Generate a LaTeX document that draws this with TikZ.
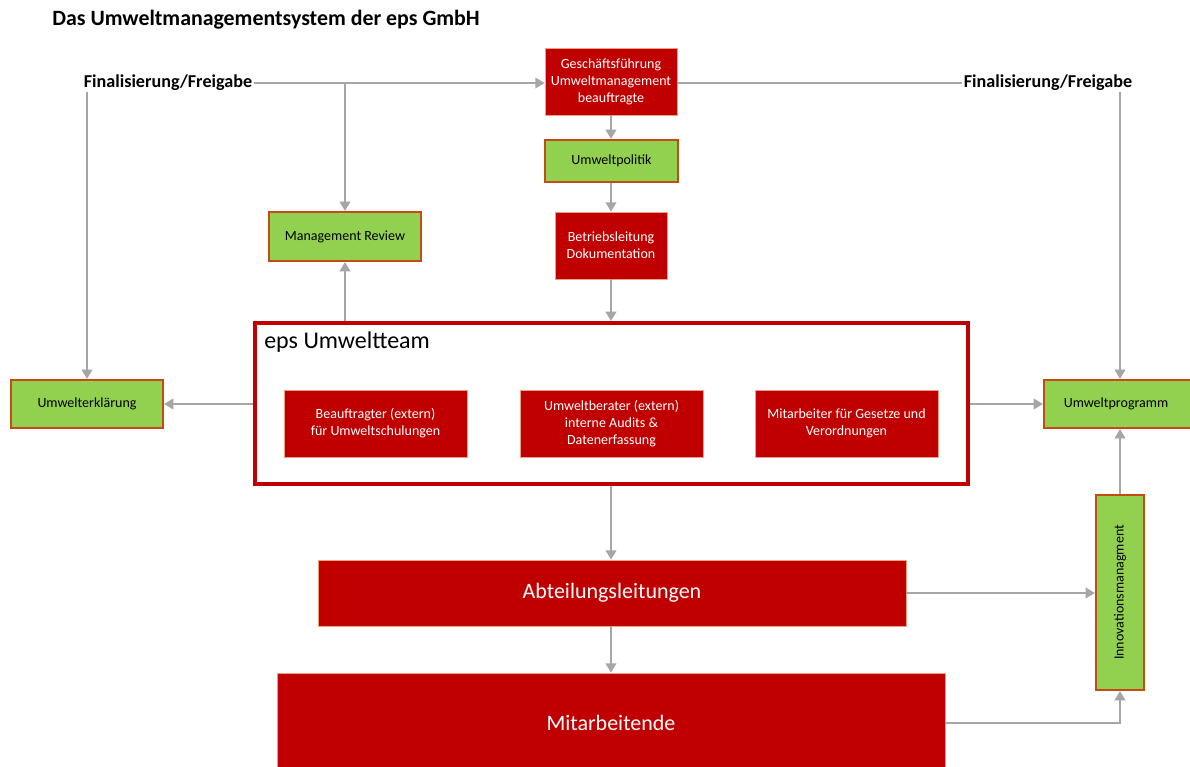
\documentclass[tikz,border=0pt]{standalone}
\usepackage{fontspec}
\setmainfont{Carlito}
\usetikzlibrary{arrows.meta}

\definecolor{boxred}{RGB}{192,0,0}
\definecolor{boxgreen}{RGB}{146,208,80}
\definecolor{greenrim}{RGB}{197,74,20}
\definecolor{redrim}{RGB}{240,160,130}
\definecolor{linegray}{RGB}{166,166,166}

\newlength\px
\setlength\px{0.75pt}

\tikzset{
  redbox/.style={draw=redrim,line width=0.6pt,fill=boxred,text=white,align=center,
    font=\fontsize{10.5pt}{12.8pt}\selectfont,inner sep=0pt},
  greenbox/.style={draw=greenrim,line width=1.6pt,fill=boxgreen,text=black,align=center,
    font=\fontsize{10.5pt}{12.8pt}\selectfont,inner sep=0pt},
  bigred/.style={redbox,font=\fontsize{16.5pt}{20pt}\selectfont},
  finaltext/.style={font=\bfseries\fontsize{13.6pt}{16pt}\selectfont,inner sep=1pt},
  arr/.style={draw=linegray,line width=1.5pt,-{Triangle[length=7pt,width=8pt]}},
  plain/.style={draw=linegray,line width=1.5pt}
}

\begin{document}
\begin{tikzpicture}[x=\px,y=-\px]

	\useasboundingbox (0,0) rectangle (1190,767);
	\fill[white] (0,0) rectangle (1190,767);

	\node[anchor=west,inner sep=0pt,font=\bfseries\fontsize{16.4pt}{19pt}\selectfont] (title) at (52,20) {Das Umweltmanagementsystem der eps GmbH};

	%top row
	\node[finaltext] (finL) at (168,83) {Finalisierung/Freigabe};
	\node[finaltext] (finR) at (1048,83) {Finalisierung/Freigabe};
	\node[redbox,minimum width=132\px,minimum height=67\px] (gf) at (611,81.5) {\raisebox{-2\px}{\parbox{130\px}{\centering Geschäftsführung\\Umweltmanagement\\beauftragte}}};

	%middle column
	\node[greenbox,minimum width=133\px,minimum height=42\px] (politik) at (611.5,161) {Umweltpolitik};
	\node[redbox,minimum width=112\px,minimum height=67\px] (betrieb) at (611,245.5) {Betriebsleitung\\Dokumentation};
	\node[greenbox,minimum width=152\px,minimum height=49\px] (review) at (345,236.5) {Management Review};

	%umweltteam
	\node[draw=boxred,line width=3pt,fill=white,minimum width=713\px,minimum height=161\px,inner sep=0pt] (team) at (611.5,403.5) {};
	\node[anchor=north west,inner sep=0pt,font=\fontsize{18pt}{21pt}\selectfont] (teamlabel) at (264,332) {eps Umweltteam};
	\node[redbox,minimum width=183\px,minimum height=67\px] (beauf) at (375.5,423.5) {Beauftragter (extern)\\für Umweltschulungen};
	\node[redbox,minimum width=183\px,minimum height=67\px] (berater) at (611.5,423.5) {Umweltberater (extern)\\interne Audits \&\\Datenerfassung};
	\node[redbox,minimum width=183\px,minimum height=67\px] (gesetze) at (846.5,423.5) {Mitarbeiter für Gesetze und\\Verordnungen};

	%sides
	\node[greenbox,minimum width=152\px,minimum height=48\px] (erkl) at (87,404) {Umwelterklärung};
	\node[greenbox,minimum width=152\px,minimum height=48\px] (programm) at (1120,404) {\hspace*{-8\px}Umweltprogramm};
	\node[greenbox,minimum width=48\px,minimum height=195\px] (innov) at (1120,592.5) {};
	\node[rotate=90,font=\fontsize{10.5pt}{12.8pt}\selectfont] (innovtext) at (innov.center) {Innovationsmanagment};

	%bottom
	\node[bigred,minimum width=588\px,minimum height=66\px] (abt) at (612,593) {\raisebox{-2\px}{Abteilungsleitungen}};
	\node[bigred,minimum width=668\px,minimum height=100\px] (mitarb) at (611,723) {Mitarbeitende};

	%connections top
	\draw[arr] (finL.east) -- (gf.west |- finL.east);
	\draw[arr] (erkl.north |- finL.south) -- (erkl.north);
	\draw[arr] (review.north |- finL.east) -- (review.north);
	\draw[plain] (gf.east |- finR.west) -- (finR.west);
	\draw[arr] (programm.north |- finR.south) -- (programm.north);

	%connections middle
	\draw[arr] (gf.south) -- (politik.north -| gf.south);
	\draw[arr] (politik.south -| gf.south) -- (betrieb.north -| gf.south);
	\draw[arr] (betrieb.south) -- (team.north -| betrieb.south);
	\draw[arr] (review.south |- team.north) -- (review.south);
	\draw[arr] (team.west |- erkl.east) -- (erkl.east);
	\draw[arr] (team.east |- programm.west) -- (programm.west);

	%connections bottom
	\draw[arr] (team.south -| gf.south) -- (abt.north -| gf.south);
	\draw[arr] (abt.south -| gf.south) -- (mitarb.north -| gf.south);
	\draw[arr] (abt.east) -- (innov.west |- abt.east);
	\draw[arr] (mitarb.east) -| (innov.south);
	\draw[arr] (innov.north) -- (programm.south);

\end{tikzpicture}
\end{document}
